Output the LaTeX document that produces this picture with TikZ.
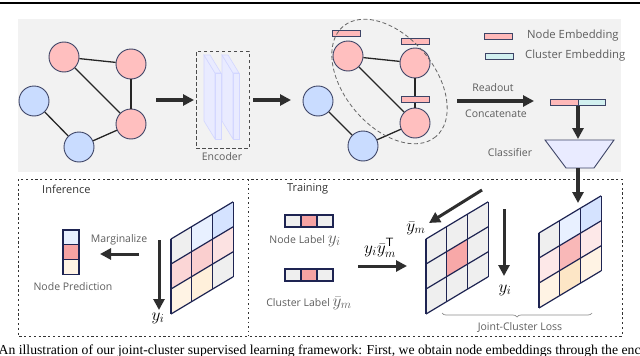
\documentclass[tikz,border=0pt]{standalone}
\usepackage{fontspec}
\setmainfont{Open Sans}
\newfontfamily\capfont{Liberation Serif}
\usetikzlibrary{arrows.meta,decorations.pathreplacing,calc}
\definecolor{panel}{HTML}{F2F2F2}
\definecolor{navy}{HTML}{3D4466}
\definecolor{gridc}{HTML}{1E2452}
\definecolor{pinkn}{HTML}{FFBFBF}
\definecolor{bluen}{HTML}{C9DCFF}
\definecolor{cyanbar}{HTML}{D2F0F0}
\definecolor{pinkbar}{HTML}{FFB9B9}
\definecolor{arrowc}{HTML}{2E2E2E}
\definecolor{txt}{HTML}{5E5E5E}
\definecolor{slabf}{HTML}{E9EBFF}
\definecolor{slabd}{HTML}{D3D7FF}
\definecolor{gGray}{HTML}{EFEFEF}
\definecolor{gLB}{HTML}{E8F0FF}
\definecolor{gB}{HTML}{D5E3FF}
\definecolor{gP1}{HTML}{FBD6D6}
\definecolor{gP2}{HTML}{FACFCF}
\definecolor{gP3}{HTML}{FCE2E2}
\definecolor{gO1}{HTML}{FFF3E4}
\definecolor{gO2}{HTML}{FFF0DB}
\definecolor{gC}{HTML}{F8A8A8}
\definecolor{gLP}{HTML}{FDE8E8}
\definecolor{gPm}{HTML}{F9B8B8}
\definecolor{gO3}{HTML}{FDE6C6}
\definecolor{cellp}{HTML}{F6A3A3}
\newcommand{\skewgrid}[3]{%
  \foreach \u/\v/\cc in {#3} {
    \fill[\cc] ({#1+\u*20.7},{#2+\v*25-\u*12.4}) -- ++(20.7,-12.4) -- ++(0,25) -- ++(-20.7,12.4) -- cycle;
  }
  \foreach \u in {0,...,3} \draw[gridline] ({#1+\u*20.7},{#2-\u*12.4}) -- ++(0,75);
  \foreach \v in {0,...,3} \draw[gridline] ({#1},{#2+\v*25}) -- ++(62.1,-37.2);
}
\tikzset{
  pnode/.style={circle, draw=navy, fill=pinkn, line width=0.9pt, minimum size=30pt, inner sep=0},
  bnode/.style={circle, draw=navy, fill=bluen, line width=0.9pt, minimum size=30pt, inner sep=0},
  edge/.style={draw=black!85, line width=1.3pt},
  bigarrow/.style={draw=arrowc, line width=3.4pt, -{Triangle[length=11pt,width=11pt]}},
  bar/.style={rectangle, draw=navy, line width=0.7pt, minimum width=28pt, minimum height=6pt, inner sep=0},
  cell/.style={rectangle, draw=gridc, line width=1.1pt, minimum width=16pt, minimum height=12pt, inner sep=0},
  vcell/.style={rectangle, draw=gridc, line width=1.1pt, minimum width=16pt, minimum height=14.7pt, inner sep=0},
  gridline/.style={draw=gridc, line width=1.2pt},
  lbl/.style={text=txt, font=\fontsize{10.5}{12}\selectfont, inner sep=0},
  leg/.style={text=txt, font=\fontsize{11.3}{13}\selectfont, inner sep=0, anchor=west},
  head/.style={text=black!80, font=\fontsize{11}{12}\selectfont, inner sep=0, anchor=west},
  mathl/.style={font=\fontsize{17.28}{18}\selectfont, inner sep=0},
  slab/.style={fill=slabf, draw=slabd, line width=0.6pt},
  boxdash/.style={draw=black!80, line width=1pt, dash pattern=on 2.2pt off 2.6pt},
}
\begin{document}
\begin{tikzpicture}[x=1pt,y=-1pt]
\useasboundingbox (0,0) rectangle (640,356);
% top rule
\draw[line width=1.6pt] (0,2.8) -- (640,2.8);
% grey panel
\fill[panel] (18,19) rectangle (621,172);
% graph 1
\node[pnode] (a1) at (64,57) {};
\node[pnode] (b1) at (131,64) {};
\node[pnode] (c1) at (131,124) {};
\node[bnode] (d1) at (34,101) {};
\node[bnode] (e1) at (79,147) {};
\draw[edge] (a1) -- (b1); \draw[edge] (a1) -- (c1); \draw[edge] (b1) -- (c1);
\draw[edge] (d1) -- (e1); \draw[edge] (e1) -- (c1);
% arrow 1
\coordinate (ar1s) at (156,100); \coordinate (ar1e) at (194,100);
\draw[bigarrow] (ar1s) -- (ar1e);
% encoder
\node[draw=black!70, line width=1pt, dash pattern=on 3.5pt off 2.5pt, minimum width=53pt, minimum height=97pt, inner sep=0] (enc) at (222.5,99.5) {};
\node[lbl] (encl) at (222,157) {Encoder};
\foreach \dx in {0,18} {
  \begin{scope}[shift={(\dx,0)}]
  \draw[slab] (204,55) -- (215,73) -- (215,139) -- (204,121) -- cycle;
  \draw[slab] (204,55) -- (210,55) -- (221,73) -- (215,73) -- cycle;
  \draw[slab] (215,73) rectangle (221,139);
  \end{scope}
}
% arrow 2
\coordinate (ar2s) at (253,100); \coordinate (ar2e) at (291,100);
\draw[bigarrow] (ar2s) -- (ar2e);
% graph 2
\node[pnode] (a2) at (348,56) {};
\node[pnode] (b2) at (415,63) {};
\node[pnode] (c2) at (415,123) {};
\node[bnode] (d2) at (318,101) {};
\node[bnode] (e2) at (363,146) {};
\draw[edge] (a2) -- (b2); \draw[edge] (a2) -- (c2); \draw[edge] (b2) -- (c2);
\draw[edge] (d2) -- (e2); \draw[edge] (e2) -- (c2);
\node[bar, fill=pinkbar] (ea) at (346,33.5) {};
\node[bar, fill=pinkbar] (eb) at (415,41) {};
\node[bar, fill=pinkbar] (ec) at (415,99.5) {};
\draw[black!60, line width=0.8pt, dash pattern=on 4pt off 2.5pt] (389.5,81.5) ellipse [x radius=72, y radius=45, rotate=-50];
% legend
\node[bar, fill=pinkbar] (lg1) at (498,36) {};
\node[leg] (lg1t) at (527,36) {Node Embedding};
\node[bar, fill=cyanbar] (lg2) at (499.5,56) {};
\node[leg] (lg2t) at (525,56) {Cluster Embedding};
% readout
\coordinate (ros) at (457,101); \coordinate (roe) at (534,101);
\draw[bigarrow] (ros) -- (roe);
\node[lbl] (rol) at (493,88) {Readout};
\node[lbl] (col) at (496,114) {Concatenate};
% concatenated
\node[bar, fill=pinkbar, minimum width=27.5pt] (cat1) at (564.5,102) {};
\node[bar, fill=cyanbar, minimum width=27.5pt] (cat2) at (592,102) {};
\coordinate (catb) at (578,106);
\coordinate (clsT) at (578,139);
\draw[bigarrow] (catb) -- (clsT);
\draw[fill=slabf, draw=navy, line width=0.9pt] (545,140) -- (614,140) -- (594,168) -- (566,168) -- cycle;
\node[lbl] (clsl) at (510,153) {Classifier};
\coordinate (clsB) at (578,168);
\coordinate (g2in) at (578,203);
% bottom dashed box
\draw[boxdash] (18,179) rectangle (622,336);
\draw[black!80, line width=1pt, dash pattern=on 1.6pt off 3pt] (248,179) -- (248,336);
\draw[bigarrow] (clsB) -- (g2in);
% inference
\node[head] (inf) at (42,189) {Inference};
\node[vcell, fill=gLB] (np1) at (71,237.35) {};
\node[vcell, fill=cellp] (np2) at (71,252.05) {};
\node[vcell, fill=gO1] (np3) at (71,266.75) {};
\node[lbl] (npl) at (73,287) {Node Prediction};
\coordinate (mgs) at (139,254); \coordinate (mge) at (100,254);
\draw[bigarrow, line width=3pt] (mgs) -- (mge);
\node[lbl] (mgl) at (119,240) {Marginalize};
\coordinate (yis) at (159,240); \coordinate (yie) at (159,310);
\draw[bigarrow, line width=3pt] (yis) -- (yie);
\node[mathl] (yil) at (158,318) {$y_i$};
\skewgrid{171}{239}{0/0/gGray,1/0/gLB,2/0/gB,0/1/gP1,1/1/gP2,2/1/gP3,0/2/gO1,1/2/gO2,2/2/gGray}
% training
\node[head] (trn) at (287,189) {Training};
\node[cell, fill=gGray] (nl1) at (293,221) {};
\node[cell, fill=cellp] (nl2) at (309,221) {};
\node[cell, fill=gGray] (nl3) at (325,221) {};
\node[lbl, anchor=base] (nll) at (305,243) {Node Label \fontsize{17.28}{18}\selectfont$y_i$};
\node[cell, fill=gGray] (cl1) at (293,275) {};
\node[cell, fill=cellp] (cl2) at (309,275) {};
\node[cell, fill=gGray] (cl3) at (325,275) {};
\node[lbl, anchor=base] (cll) at (309,306) {Cluster Label \fontsize{17.28}{18}\selectfont$\bar{y}_m$};
\coordinate (ops) at (358,266); \coordinate (ope) at (407,266);
\draw[bigarrow, line width=3pt] (ops) -- (ope);
\node[mathl] (opl) at (380,248) {$y_i\bar{y}_m^{\mathsf{T}}$};
\skewgrid{426}{239}{0/0/gGray,1/0/gGray,2/0/gGray,0/1/gGray,1/1/gC,2/1/gGray,0/2/gGray,1/2/gGray,2/2/gGray}
\coordinate (yms) at (482,190); \coordinate (yme) at (429,223);
\draw[bigarrow, line width=3pt] (yms) -- (yme);
\node[mathl] (yml) at (416,228) {$\bar{y}_m$};
\coordinate (yts) at (504,209); \coordinate (yte) at (504,276);
\draw[bigarrow, line width=3pt] (yts) -- (yte);
\node[mathl] (ytl) at (505,290) {$y_i$};
\skewgrid{539}{233}{0/0/gGray,1/0/gLB,2/0/gB,0/1/gLP,1/1/gPm,2/1/gLP,0/2/gO1,1/2/gO3,2/2/gO1}
% brace
\coordinate (brs) at (442,313); \coordinate (bre) at (592,313);
\draw[black!45, line width=0.7pt, decorate, decoration={brace, mirror, amplitude=4pt}] (brs) -- (bre);
\node[lbl] (brl) at (520,327) {Joint-Cluster Loss};
% caption
\node[anchor=base west, inner sep=0, font=\capfont\fontsize{13.7}{15}\selectfont] (cap) at (-1.5,354) {An illustration of our joint-cluster supervised learning framework: First, we obtain node embeddings through the enc};
\end{tikzpicture}
\end{document}
